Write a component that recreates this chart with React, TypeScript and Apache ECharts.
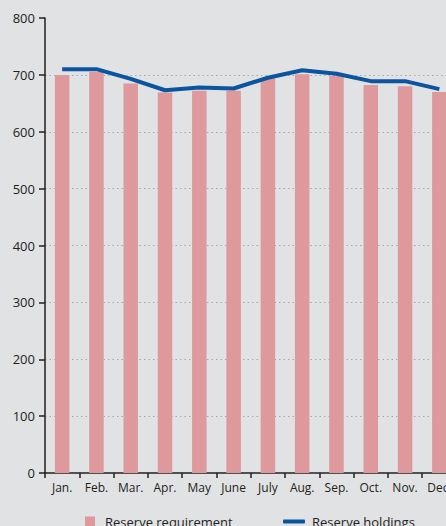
import React, { useEffect, useRef } from "react";
import * as echarts from "echarts";

const months = ["Jan.", "Feb.", "Mar.", "Apr.", "May", "June", "July", "Aug.", "Sep.", "Oct.", "Nov.", "Dec."];
const reserveRequirement = [700, 705, 685, 669, 672, 672, 694, 701, 698, 682, 680, 670];
const reserveHoldings = [710, 710, 693, 673, 678, 676, 695, 708, 702, 689, 689, 675];
const yTicks = [0, 100, 200, 300, 400, 500, 600, 700, 800];

const FONT = "'Open Sans', sans-serif";

export default function App() {
  const ref = useRef<HTMLDivElement>(null);
  useEffect(() => {
    if (!ref.current) return;
    const chart = echarts.init(ref.current, null, { renderer: "svg" });
    chart.setOption({
      animation: false,
      backgroundColor: "#e1e2e4",
      grid: { left: 45, top: 18, width: 411.5, height: 455, containLabel: false },
      legend: [
        {
          data: [{ name: "Reserve requirement", icon: "rect" }],
          left: 80,
          top: 510,
          itemWidth: 10,
          itemHeight: 10,
          textStyle: { fontFamily: FONT, fontSize: 13, color: "#231f20", padding: [0, 0, 0, 5] },
        },
        {
          data: [{ name: "Reserve holdings", icon: "roundRect" }],
          left: 278,
          top: 510,
          itemWidth: 22,
          itemHeight: 4,
          textStyle: { fontFamily: FONT, fontSize: 13, color: "#231f20", padding: [0, 0, 0, 2] },
        },
      ],
      xAxis: {
        type: "category",
        data: months,
        axisLine: { lineStyle: { color: "#231f20", width: 1.5 } },
        axisTick: { show: true, length: 5, lineStyle: { color: "#231f20", width: 1.5 } },
        axisLabel: { fontFamily: FONT, fontSize: 12, color: "#231f20", margin: 8 },
      },
      yAxis: {
        type: "value",
        min: yTicks[0],
        max: yTicks[yTicks.length - 1],
        interval: 100,
        axisLine: { show: true, lineStyle: { color: "#231f20", width: 1.5 } },
        axisTick: { show: true, length: 6, lineStyle: { color: "#231f20", width: 1.5 } },
        axisLabel: { fontFamily: FONT, fontSize: 13, color: "#231f20", margin: 10 },
        splitLine: {
          show: true,
          showMinLine: false,
          showMaxLine: false,
          lineStyle: { color: "#a8a8a8", type: [1.5, 3], width: 1 },
        },
      },
      series: [
        {
          name: "Reserve requirement",
          type: "bar",
          data: reserveRequirement,
          barWidth: 14.5,
          itemStyle: { color: "#dd999b" },
        },
        {
          name: "Reserve holdings",
          type: "line",
          data: reserveHoldings,
          symbol: "none",
          lineStyle: { color: "#0b55a0", width: 4 },
          itemStyle: { color: "#0b55a0" },
        },
      ],
    });
    return () => chart.dispose();
  }, []);
  return (
    <div style={{ position: "fixed", left: 0, top: 0, width: 446, height: 526, overflow: "hidden", background: "#e1e2e4" }}>
      <div ref={ref} style={{ width: 480, height: 526 }} />
    </div>
  );
}
